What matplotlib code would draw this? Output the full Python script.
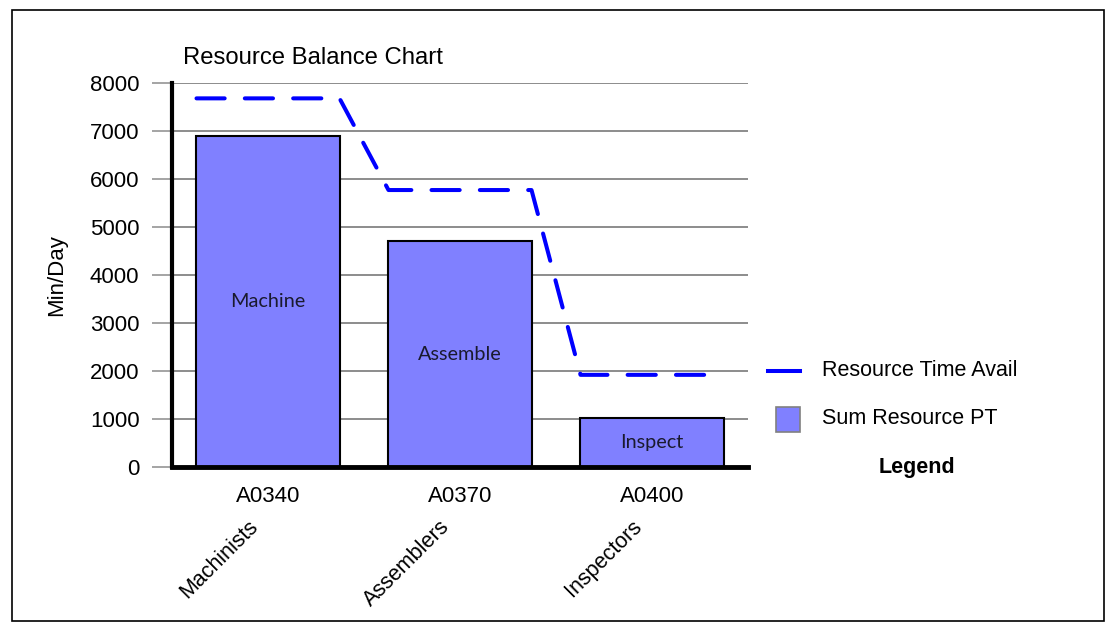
import matplotlib
matplotlib.use("Agg")
import matplotlib.pyplot as plt
from matplotlib.lines import Line2D
from matplotlib.patches import Rectangle

# Data
resource_ids = ["A0340", "A0370", "A0400"]
resource_names = ["Machinists", "Assemblers", "Inspectors"]
operation_labels = ["Machine", "Assemble", "Inspect"]
sum_resource_pt = [6900, 4700, 1020]
resource_time_avail = [7680, 5770, 1920]
y_ticks = [0, 1000, 2000, 3000, 4000, 5000, 6000, 7000, 8000]

W, H = 1116, 623
DPI = 100
FONT = ["Liberation Sans", "DejaVu Sans"]
plt.rcParams["font.family"] = FONT

fig = plt.figure(figsize=(W / DPI, H / DPI), dpi=DPI)
ax = fig.add_axes([172 / W, (H - 467) / H, (748 - 172) / W, (467 - 83) / H])

bar_w = 0.745
x = list(range(len(resource_ids)))
ax.bar(x, sum_resource_pt, width=bar_w, color="#8080ff", edgecolor="black",
       linewidth=1.5, zorder=3)

# Step-shaped availability line spanning each bar's width
lx, ly = [], []
for i, v in zip(x, resource_time_avail):
    lx += [i - bar_w / 2, i + bar_w / 2]
    ly += [v, v]
ax.plot(lx, ly, color="#0000ff", linewidth=2.9, linestyle=(0, (7, 5)),
        dash_capstyle="round", zorder=4)

# Operation labels inside the bars
for i, v, lab in zip(x, sum_resource_pt, operation_labels):
    ax.text(i, v / 2, lab, ha="center", va="center", fontsize=14.3,
            family=["Lato", "DejaVu Sans"], color="#1a1a2e", zorder=5)

ax.set_xlim(-0.5, 2.5)
ax.set_ylim(0, 8000)
ax.set_yticks(y_ticks)
ax.set_yticklabels([str(t) for t in y_ticks], fontsize=16)
ax.yaxis.grid(True, color="#8c8c8c", linewidth=1.4, zorder=0)
ax.set_axisbelow(True)
ax.tick_params(axis="y", direction="out", length=14.4, width=1.1,
               color="#8c8c8c", pad=9)
ax.set_xticks(x)
ax.set_xticklabels(resource_ids, fontsize=16)
ax.tick_params(axis="x", length=0, pad=14)

for s in ["top", "right"]:
    ax.spines[s].set_visible(False)
ax.spines["left"].set_linewidth(3)
ax.spines["bottom"].set_linewidth(3.5)
ax.spines["left"].set_zorder(6)
ax.spines["bottom"].set_zorder(6)

ax.set_ylabel("Min/Day", fontsize=16)
ax.yaxis.set_label_coords(-(172 - 67) / (748 - 172), 0.5)

# Rotated resource names beneath the ids
for i, name in zip(x, resource_names):
    ax.annotate(name, xy=(i, 0), xycoords=("data", "axes fraction"),
                xytext=(-6, -49), textcoords="offset pixels",
                ha="right", va="top", rotation=45, fontsize=15.5)

fig.text(183 / W, 1 - 58 / H, "Resource Balance Chart", fontsize=17.2,
         ha="left", va="center")

# Legend
fig.add_artist(Line2D([768 / W, 800 / W], [1 - 371 / H, 1 - 371 / H],
                      color="#0000ff", linewidth=2.9,
                      transform=fig.transFigure))
fig.add_artist(Rectangle((776 / W, 1 - 432 / H), 24 / W, 25 / H,
                         facecolor="#8080ff", edgecolor="#808080",
                         linewidth=1.2, transform=fig.transFigure))
fig.text(822 / W, 1 - 371 / H, "Resource Time Avail", fontsize=15.5,
         ha="left", va="center")
fig.text(822 / W, 1 - 418 / H, "Sum Resource PT", fontsize=15.5,
         ha="left", va="center")
fig.text(917 / W, 1 - 467 / H, "Legend", fontsize=15.5, fontweight="bold",
         ha="center", va="center")

# Outer frame
fig.add_artist(Rectangle((12 / W, 1 - 621 / H), 1092 / W, 611 / H,
                         facecolor="none", edgecolor="black", linewidth=1.2,
                         transform=fig.transFigure))

fig.savefig("out.png", dpi=DPI)
